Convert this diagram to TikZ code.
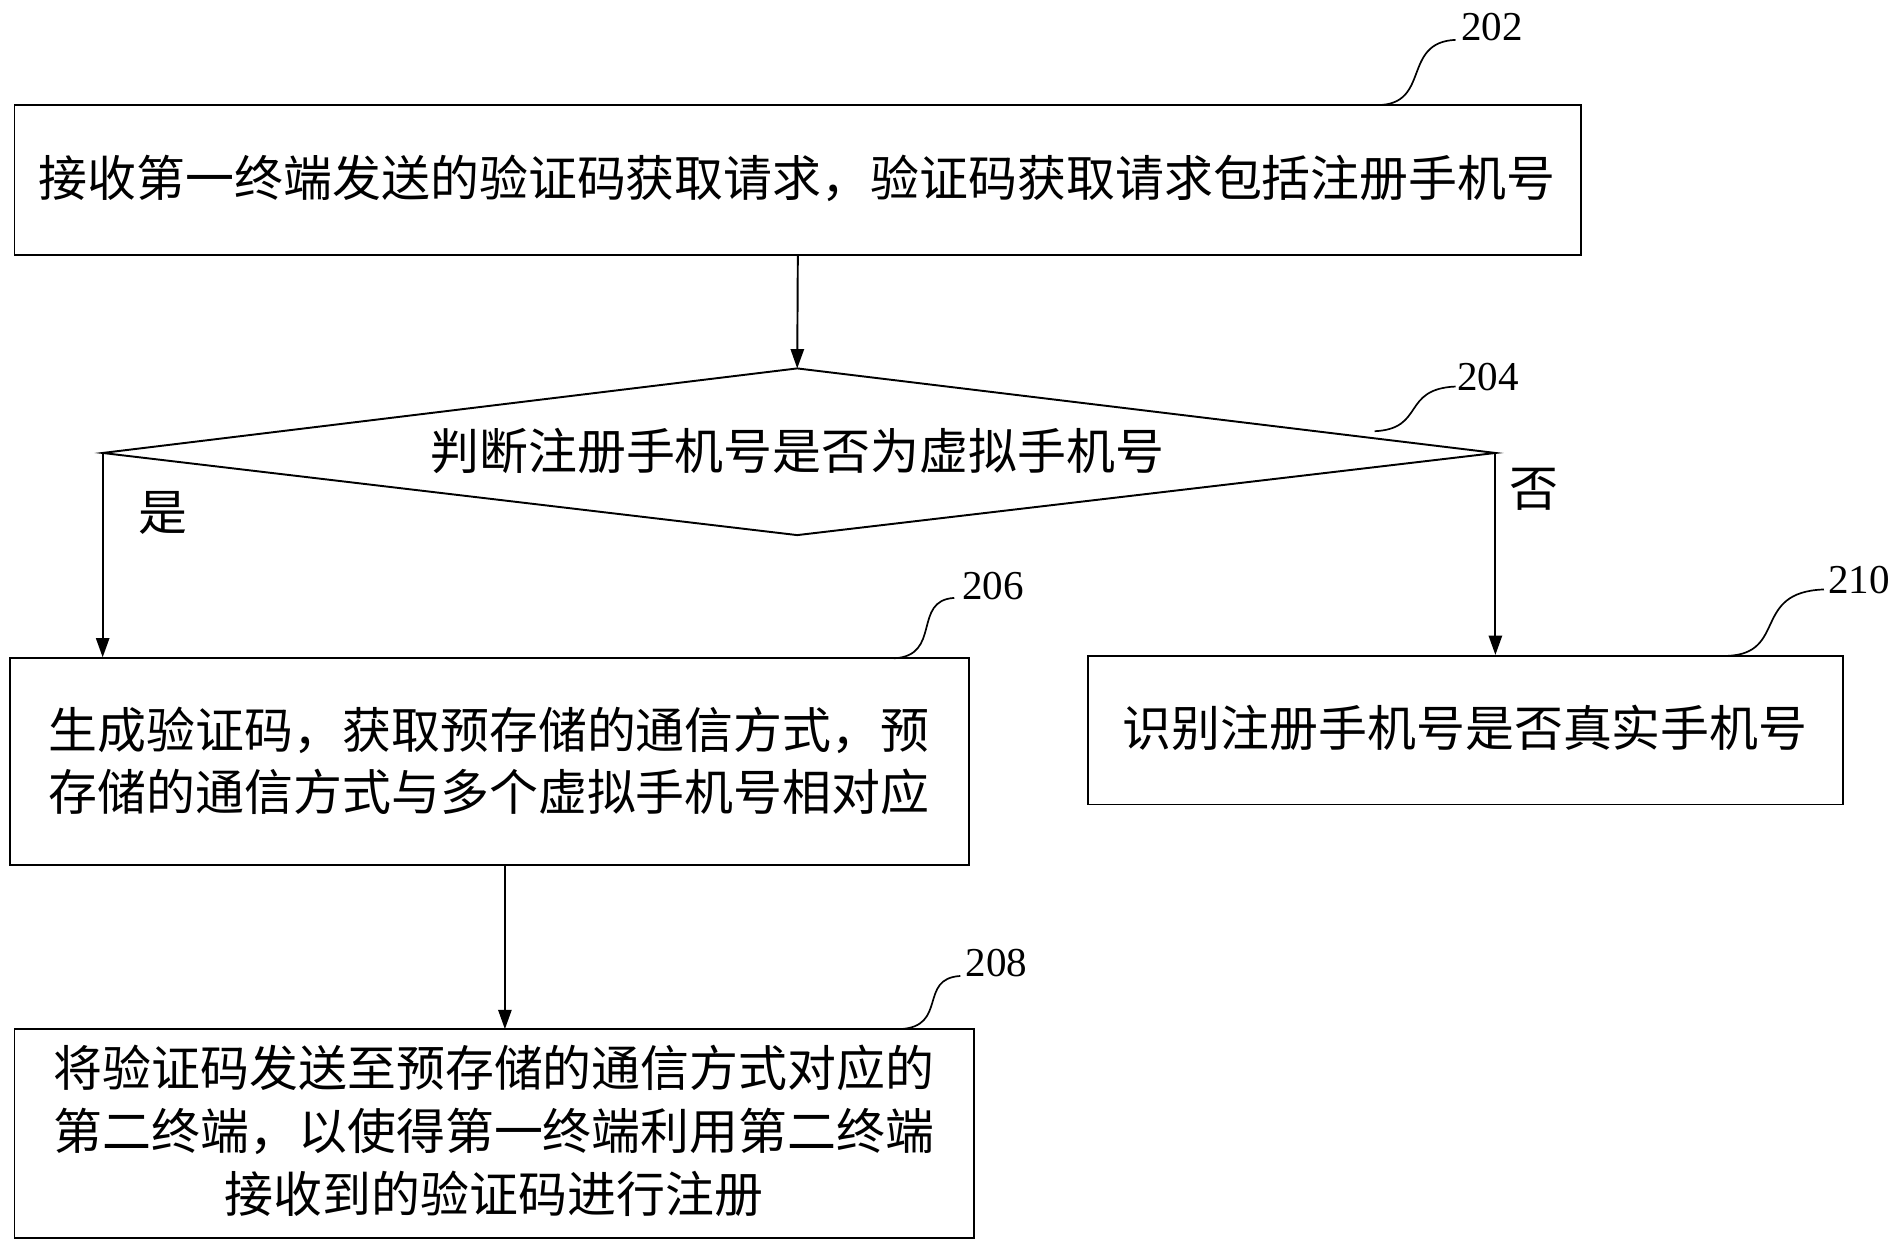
\documentclass[tikz,border=0pt]{standalone}
\usepackage{fontspec}
\setmainfont{Liberation Serif}
\newfontfamily\cjk{Noto Sans CJK SC}
\usetikzlibrary{arrows.meta}
\begin{document}
\begin{tikzpicture}[x=1pt,y=-1pt,
  box/.style={draw,line width=1.6pt,inner sep=0pt},
  txt/.style={font=\cjk\fontsize{40.5}{52}\selectfont,align=center},
  arr/.style={line width=1.6pt,-{Triangle[length=16pt,width=11pt]}},
  lead/.style={line width=1.4pt},
  num/.style={font=\fontsize{34}{34}\selectfont,anchor=west}]
\useasboundingbox[clip] (0,0) rectangle (1568,1032);
\fill[white] (0,0) rectangle (1568,1032);
% box 202
\node[box,minimum width=1297pt,minimum height=124pt] (b202) at (660.5,149) {};
\node[txt,font=\cjk\fontsize{40.5}{52}\selectfont] (t202) at (660,148) {接收第一终端发送的验证码获取请求，验证码获取请求包括注册手机号};
% diamond
\coordinate (dT) at (660,305); \coordinate (dR) at (1238,375);
\coordinate (dB) at (660,443); \coordinate (dL) at (85,375);
\draw[line width=1.6pt] (dT) -- (dR) -- (dB) -- (dL) -- cycle;
\node[txt] (t204) at (660,373) {判断注册手机号是否为虚拟手机号};
% box 206
\node[box,minimum width=794pt,minimum height=171pt] (b206) at (405,630.5) {};
\node[txt,align=left] (t206) at (405,630) {生成验证码，获取预存储的通信方式，预\\存储的通信方式与多个虚拟手机号相对应};
% box 210
\node[box,minimum width=625pt,minimum height=123pt] (b210) at (1213.5,604.5) {};
\node[txt] (t210) at (1213,603) {识别注册手机号是否真实手机号};
% box 208
\node[box,minimum width=794pt,minimum height=173pt] (b208) at (409,938.5) {};
\node[txt] (t208) at (409,936) {将验证码发送至预存储的通信方式对应的\\第二终端，以使得第一终端利用第二终端\\接收到的验证码进行注册};
% arrows
\draw[arr] (b202.south) -- (dT);
\draw[arr] (dL) -- (dL |- b206.north);
\draw[arr] (dR) -- (dR |- b210.north);
\draw[arr] (b206.south -| 418,0) -- (418,852);
\node[txt] (yes) at (135,425) {是};
\node[txt] (no) at (1270,405) {否};
% leaders and numbers
\coordinate (l202) at (1140,87); \coordinate (l204) at (1138,357);
\coordinate (l206) at (740,545); \coordinate (l210) at (1430,543);
\coordinate (l208) at (745,852);
\draw[lead] (l202) .. controls (1185,87) and (1160,35) .. (1205,33);
\node[num] (n202) at (1206,22) {202};
\draw[lead] (l204) .. controls (1180,355) and (1160,322) .. (1205,320);
\node[num] (n204) at (1203,312) {204};
\draw[lead] (l206) .. controls (780,543) and (755,497) .. (790,495);
\node[num] (n206) at (793,485) {206};
\draw[lead] (l210) .. controls (1480,541) and (1450,490) .. (1510,488);
\node[num] (n210) at (1510,480) {210};
\draw[lead] (l208) .. controls (785,850) and (760,810) .. (795,808);
\node[num] (n208) at (796,797) {208};
\end{tikzpicture}
\end{document}
